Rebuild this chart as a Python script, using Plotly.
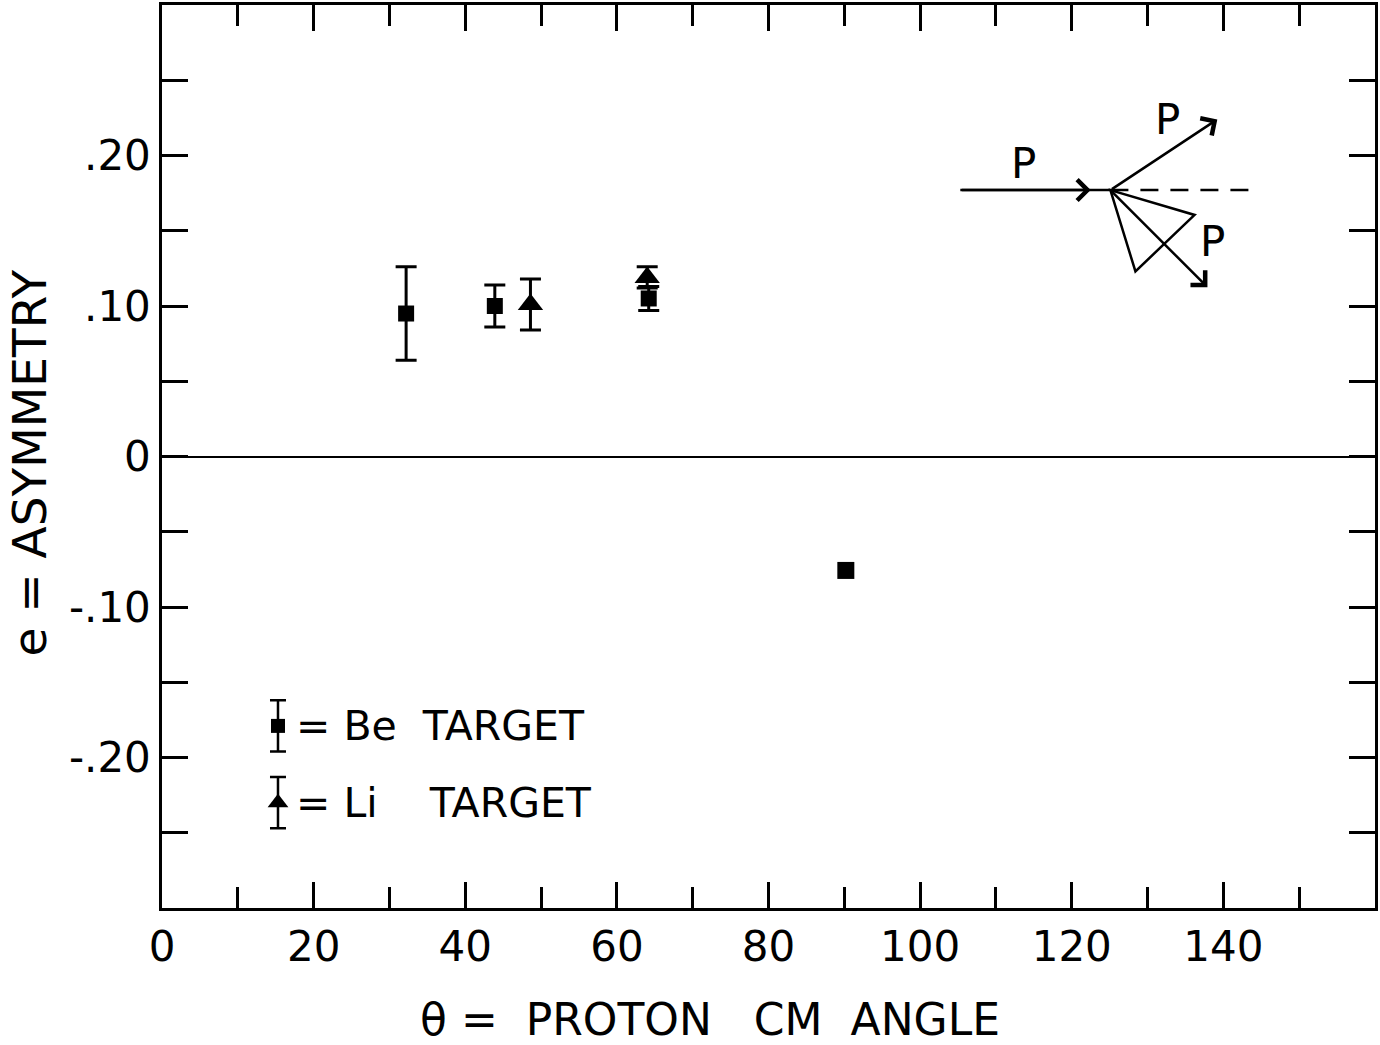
import plotly.graph_objects as go

# ---- data ----
be_theta = [32.2, 43.9, 64.2, 90.2]
be_asym = [0.095, 0.100, 0.105, -0.0757]
be_err = [0.031, 0.014, 0.008, 0.0]

li_theta = [48.6, 64.0]
li_asym = [0.101, 0.119]
li_err = [0.017, 0.007]

x_tickvals = [0, 20, 40, 60, 80, 100, 120, 140]
x_ticktext = ["0", "20", "40", "60", "80", "100", "120", "140"]
y_tickvals = [-0.2, -0.1, 0.0, 0.1, 0.2]
y_ticktext = ["-.20", "-.10", "0", ".10", ".20"]

# legend key glyph positions (decoration)
leg_x = 15.3
leg_be_y = -0.179
leg_li_y = -0.230
leg_err = 0.017

FONT = "DejaVu Sans"
BLK = "black"
NB = "\u00a0"

fig = go.Figure()

# Be points: those with visible error bars and those without
be_with = [i for i, e in enumerate(be_err) if e > 0]
be_without = [i for i, e in enumerate(be_err) if e <= 0]

fig.add_trace(go.Scatter(
    x=[be_theta[i] for i in be_with], y=[be_asym[i] for i in be_with],
    mode="markers",
    marker=dict(symbol="square", size=16, color=BLK),
    error_y=dict(type="data", array=[be_err[i] for i in be_with], color=BLK,
                 thickness=3, width=10.5),
    showlegend=False))
fig.add_trace(go.Scatter(
    x=[be_theta[i] for i in be_without], y=[be_asym[i] for i in be_without],
    mode="markers",
    marker=dict(symbol="square", size=17, color=BLK),
    showlegend=False))

fig.add_trace(go.Scatter(
    x=li_theta, y=li_asym, mode="markers",
    marker=dict(symbol="triangle-up", size=22, color=BLK),
    error_y=dict(type="data", array=li_err, color=BLK, thickness=3, width=10.5),
    showlegend=False))

# legend keys
fig.add_trace(go.Scatter(
    x=[leg_x], y=[leg_be_y], mode="markers",
    marker=dict(symbol="square", size=14, color=BLK),
    error_y=dict(type="data", array=[leg_err], color=BLK, thickness=2.5, width=8),
    showlegend=False, hoverinfo="skip"))
fig.add_trace(go.Scatter(
    x=[leg_x], y=[leg_li_y], mode="markers",
    marker=dict(symbol="triangle-up", size=18, color=BLK),
    error_y=dict(type="data", array=[leg_err], color=BLK, thickness=2.5, width=8),
    showlegend=False, hoverinfo="skip"))

annotations = [
    dict(x=17.4, y=leg_be_y, xref="x", yref="y", xanchor="left", yanchor="middle",
         text=f"={NB}Be{NB}{NB}TARGET", showarrow=False,
         font=dict(family=FONT, size=41, color=BLK)),
    dict(x=17.4, y=leg_li_y, xref="x", yref="y", xanchor="left", yanchor="middle",
         text=f"={NB}Li{NB}{NB}{NB}{NB}TARGET", showarrow=False,
         font=dict(family=FONT, size=41, color=BLK)),
]

# ---- inset kinematics diagram ----
vx, vy = 125.1, 0.177
shapes = [
    dict(type="line", xref="x", yref="y", x0=105.3, y0=vy, x1=vx, y1=vy,
         line=dict(color=BLK, width=2.5)),
    dict(type="line", xref="x", yref="y", x0=vx, y0=vy, x1=144.2, y1=vy,
         line=dict(color=BLK, width=2.5, dash="18px,12px")),
    dict(type="path", xref="x", yref="y",
         path=f"M {vx},{vy} L 136.2,0.1605 L 128.4,0.123 Z",
         line=dict(color=BLK, width=2.5)),
]
arrows = [
    ((122.5, vy), (105.3, vy)),
    ((139.2, 0.224), (vx, vy)),
    ((137.9, 0.1125), (vx, vy)),
]
for (tx, ty), (sx, sy) in arrows:
    annotations.append(dict(x=tx, y=ty, ax=sx, ay=sy, xref="x", yref="y",
                            axref="x", ayref="y", text="", showarrow=True,
                            arrowhead=4, arrowsize=1.6, arrowwidth=2.5,
                            arrowcolor=BLK))
for px, py in [(113.6, 0.195), (132.6, 0.224), (138.6, 0.143)]:
    annotations.append(dict(x=px, y=py, xref="x", yref="y", text="P",
                            showarrow=False,
                            font=dict(family=FONT, size=42, color=BLK)))

# axis titles as paper-positioned text
annotations.append(dict(x=0.452, y=-0.124, xref="paper", yref="paper",
                        xanchor="center", yanchor="middle", showarrow=False,
                        text=f"\u03b8{NB}={NB}{NB}PROTON{NB}{NB}{NB}CM{NB}{NB}ANGLE",
                        font=dict(family=FONT, size=44, color=BLK)))
annotations.append(dict(x=-0.109, y=0.493, xref="paper", yref="paper",
                        xanchor="center", yanchor="middle", showarrow=False,
                        textangle=-90,
                        text=f"e{NB}={NB}ASYMMETRY",
                        font=dict(family=FONT, size=47, color=BLK)))

axis_common = dict(
    showline=True, linecolor=BLK, linewidth=2.5, mirror="ticks",
    ticks="inside", tickcolor=BLK, tickwidth=2.5, ticklen=26,
    showgrid=False, automargin=False,
    tickfont=dict(family=FONT, size=42, color=BLK),
)

fig.update_layout(
    width=1380, height=1045,
    margin=dict(l=162, r=5, t=5, b=137),
    plot_bgcolor="white", paper_bgcolor="white",
    xaxis=dict(range=[0, 160], tickmode="array", tickvals=x_tickvals,
               ticktext=x_ticktext, zeroline=False,
               minor=dict(dtick=10, tick0=0, ticks="inside", ticklen=21,
                          tickwidth=2.5, tickcolor=BLK, showgrid=False),
               **axis_common),
    yaxis=dict(range=[-0.3, 0.3], tickmode="array", tickvals=y_tickvals,
               ticktext=y_ticktext, zeroline=True, zerolinecolor=BLK,
               zerolinewidth=2,
               minor=dict(dtick=0.05, tick0=0, ticks="inside", ticklen=26,
                          tickwidth=2.5, tickcolor=BLK, showgrid=False),
               **axis_common),
    annotations=annotations,
    shapes=shapes,
)

fig.write_html("out.html", config={"displayModeBar": False},
               post_script="document.body.style.margin='0';document.body.style.overflow='hidden';")
